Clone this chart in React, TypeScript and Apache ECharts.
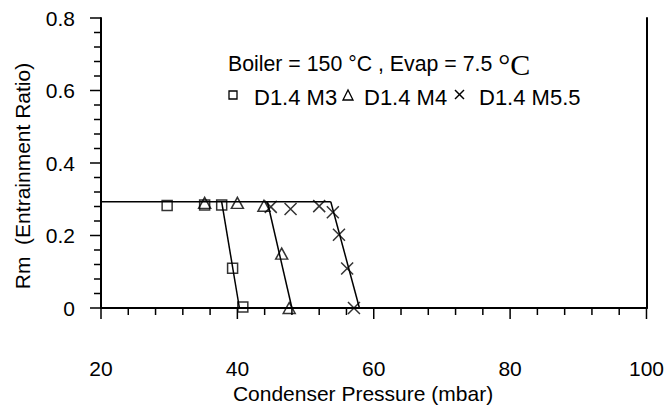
import React, { useEffect, useRef } from "react";
import * as echarts from "echarts";

const FONT = "'Liberation Sans', Arial, Helvetica, sans-serif";

// Measured points
const m3X = [29.7, 35.2, 37.7, 39.3, 40.8];
const m3Y = [0.283, 0.284, 0.284, 0.11, 0.003];
const m4X = [35.2, 40.0, 43.9, 46.5, 47.6];
const m4Y = [0.29, 0.29, 0.282, 0.15, 0.0];
const m55X = [44.9, 47.8, 52.0, 54.0, 54.9, 56.1, 57.1];
const m55Y = [0.279, 0.273, 0.281, 0.264, 0.202, 0.109, 0.0];

// Fitted lines
const plateauX = [20, 53.7];
const plateauY = [0.293, 0.293];
const fitM3X = [37.7, 40.3];
const fitM3Y = [0.293, 0.0];
const fitM4X = [44.4, 48.0];
const fitM4Y = [0.293, 0.0];
const fitM55X = [53.7, 57.9];
const fitM55Y = [0.293, 0.0];

// Axis ticks
const xTicks = [20, 40, 60, 80, 100];
const xMinorTicks = [24, 28, 32, 36, 44, 48, 52, 56, 64, 68, 72, 76, 84, 88, 92, 96];
const yTicks = [0, 0.2, 0.4, 0.6, 0.8];
const yMinorTicks = [0.04, 0.08, 0.12, 0.16, 0.24, 0.28, 0.32, 0.36, 0.44, 0.48, 0.52, 0.56, 0.64, 0.68, 0.72, 0.76];

const zip = (xs: number[], ys: number[]) => xs.map((x, i) => [x, ys[i]]);

export default function App() {
  const ref = useRef<HTMLDivElement>(null);
  useEffect(() => {
    if (!ref.current) return;
    const chart = echarts.init(ref.current, undefined, { renderer: "svg" });
    const lineSeries = (d: number[][]) => ({
      type: "line",
      data: d,
      showSymbol: false,
      symbol: "none",
      lineStyle: { color: "#000", width: 1.5 },
      silent: true,
    });
    const markerStyle = { color: "rgba(0,0,0,0)", borderColor: "#000", borderWidth: 1.5 };
    const frameAxis = {
      type: "value",
      axisLine: { show: true, lineStyle: { color: "#000", width: 2 } },
      axisTick: { show: false },
      axisLabel: { show: false },
      splitLine: { show: false },
    };
    chart.setOption({
      animation: false,
      grid: { left: 101, right: 18, top: 18, bottom: 97 },
      xAxis: [
        {
          type: "value",
          position: "bottom",
          min: xTicks[0],
          max: xTicks[xTicks.length - 1],
          interval: 20,
          axisLine: { show: true, lineStyle: { color: "#000", width: 2 } },
          axisTick: { show: false },
          splitLine: { show: false },
          axisLabel: { margin: 50, fontSize: 21, color: "#000", fontFamily: FONT },
        },
        { ...frameAxis, position: "top", min: xTicks[0], max: xTicks[xTicks.length - 1] },
      ],
      yAxis: [
        {
          type: "value",
          position: "left",
          min: yTicks[0],
          max: yTicks[yTicks.length - 1],
          interval: 0.2,
          axisLine: { show: true, lineStyle: { color: "#000", width: 2 } },
          axisTick: { show: false },
          splitLine: { show: false },
          axisLabel: { margin: 26, fontSize: 21, color: "#000", fontFamily: FONT, formatter: (v: number) => (v === 0 ? "0" : v.toFixed(1)) },
        },
        { ...frameAxis, position: "right", min: yTicks[0], max: yTicks[yTicks.length - 1] },
      ],
      series: [
        lineSeries(zip(plateauX, plateauY)),
        lineSeries(zip(fitM3X, fitM3Y)),
        lineSeries(zip(fitM4X, fitM4Y)),
        lineSeries(zip(fitM55X, fitM55Y)),
        {
          name: "D1.4 M3",
          type: "scatter",
          data: zip(m3X, m3Y),
          symbol: "rect",
          symbolSize: 10,
          itemStyle: markerStyle,
        },
        {
          name: "D1.4 M4",
          type: "scatter",
          data: zip(m4X, m4Y),
          symbol: "triangle",
          symbolSize: [12, 11],
          itemStyle: markerStyle,
        },
        {
          name: "D1.4 M5.5",
          type: "scatter",
          data: zip(m55X, m55Y),
          symbol: "path://M0,0L10,10M10,0L0,10",
          symbolSize: 12,
          itemStyle: markerStyle,
        },
      ],
    });

    const finder = { xAxisIndex: 0, yAxisIndex: 0 };
    const tickLines: any[] = [];
    const addX = (v: number, len: number) => {
      const p = chart.convertToPixel(finder, [v, yTicks[0]]) as number[];
      if (p) tickLines.push({ type: "line", silent: true, shape: { x1: p[0], y1: p[1], x2: p[0], y2: p[1] + len }, style: { stroke: "#000", lineWidth: 1.5 } });
    };
    const addY = (v: number, len: number) => {
      const p = chart.convertToPixel(finder, [xTicks[0], v]) as number[];
      if (p) tickLines.push({ type: "line", silent: true, shape: { x1: p[0], y1: p[1], x2: p[0] - len, y2: p[1] }, style: { stroke: "#000", lineWidth: 1.5 } });
    };
    xTicks.forEach((v) => addX(v, 11));
    xMinorTicks.forEach((v) => addX(v, 7));
    yTicks.forEach((v) => addY(v, 11));
    yMinorTicks.forEach((v) => addY(v, 7));

    chart.setOption({
      graphic: [
        ...tickLines,
        {
          type: "text",
          left: 228,
          top: 49,
          style: {
            text: "{a|Boiler = 150 °C , Evap = 7.5 }{b|°C}",
            rich: {
              a: { fontSize: 21.3, fontFamily: FONT, fill: "#000" },
              b: { fontSize: 30, fontFamily: "'Liberation Serif', 'Times New Roman', serif", fill: "#000" },
            },
          },
        },
        { type: "rect", shape: { x: 229, y: 91, width: 8, height: 8 }, style: { fill: "none", stroke: "#000", lineWidth: 1.3 } },
        { type: "text", x: 254, y: 97, style: { text: "D1.4 M3", fontSize: 22, fontFamily: FONT, fill: "#000", verticalAlign: "middle" } },
        { type: "polygon", shape: { points: [[343, 100], [348, 90], [353, 100]] }, style: { fill: "none", stroke: "#000", lineWidth: 1.3 } },
        { type: "text", x: 364, y: 97, style: { text: "D1.4 M4", fontSize: 22, fontFamily: FONT, fill: "#000", verticalAlign: "middle" } },
        { type: "line", shape: { x1: 455, y1: 90, x2: 464, y2: 99 }, style: { stroke: "#000", lineWidth: 1.5 } },
        { type: "line", shape: { x1: 464, y1: 90, x2: 455, y2: 99 }, style: { stroke: "#000", lineWidth: 1.5 } },
        { type: "text", x: 479, y: 97, style: { text: "D1.4 M5.5", fontSize: 22, fontFamily: FONT, fill: "#000", verticalAlign: "middle" } },
        { type: "text", x: 363, y: 393, style: { text: "Condenser Pressure (mbar)", fontSize: 21, fontFamily: FONT, fill: "#000", align: "center", verticalAlign: "middle" } },
        { type: "text", x: 22, y: 176, rotation: Math.PI / 2, style: { text: "Rm  (Entrainment Ratio)", fontSize: 21, fontFamily: FONT, fill: "#000", align: "center", verticalAlign: "middle" } },
      ],
    });
    return () => chart.dispose();
  }, []);
  return <div ref={ref} style={{ width: 667, height: 405, position: "absolute", left: 0, top: 0 }} />;
}
